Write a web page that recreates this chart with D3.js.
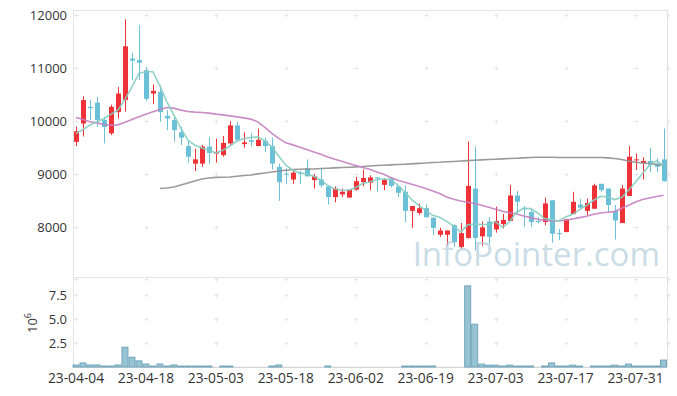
<!DOCTYPE html>
<html>
<head>
<meta charset="utf-8">
<script src="https://cdn.jsdelivr.net/npm/d3@7"></script>
<style>
  body { margin: 0; background: #fff; }
  text { font-family: "Open Sans", sans-serif; }
</style>
</head>
<body>
<script>
// trading days shown on the category axis
const dates = [
  "23-04-04","23-04-05","23-04-06","23-04-07","23-04-10","23-04-11","23-04-12","23-04-13","23-04-14","23-04-17",
  "23-04-18","23-04-19","23-04-20","23-04-21","23-04-24","23-04-25","23-04-26","23-04-27","23-04-28","23-05-02",
  "23-05-03","23-05-04","23-05-08","23-05-09","23-05-10","23-05-11","23-05-12","23-05-15","23-05-16","23-05-17",
  "23-05-18","23-05-19","23-05-22","23-05-23","23-05-24","23-05-25","23-05-26","23-05-30","23-05-31","23-06-01",
  "23-06-02","23-06-05","23-06-07","23-06-08","23-06-09","23-06-12","23-06-13","23-06-14","23-06-15","23-06-16",
  "23-06-19","23-06-20","23-06-21","23-06-22","23-06-23","23-06-26","23-06-27","23-06-28","23-06-29","23-06-30",
  "23-07-03","23-07-04","23-07-05","23-07-06","23-07-07","23-07-10","23-07-11","23-07-12","23-07-13","23-07-14",
  "23-07-17","23-07-18","23-07-19","23-07-20","23-07-21","23-07-24","23-07-25","23-07-26","23-07-27","23-07-28",
  "23-07-31","23-08-01","23-08-02","23-08-03","23-08-04"
];

const open = [
  9610, 9956,10270,10350,10020, 9770,10170,10400,11180,11150,
 10960,10520,10550,10100,10020, 9790, 9530, 9200, 9200, 9520,
  9390, 9360, 9580, 9920, 9570, 9640, 9530, 9630, 9530, 9140,
  9010, 8900, 9030, 9110, 8890, 8900, 8770, 8570, 8620, 8560,
  8710, 8850, 8840, 8940, 8800, 8920, 8770, 8670, 8310, 8270,
  8360, 8180, 7860, 7860, 8040, 7630, 7800, 8730, 7830, 8110,
  7960, 8060, 8120, 8600, 8370, 8290, 8120, 8100, 8510, 7890,
  7910, 8250, 8430, 8310, 8350, 8820, 8730, 8310, 8080, 8590,
  9260, 9210, 9250, 9200, 9280
];
const high = [
  9900,10470,10400,10460,10080,10310,10640,11920,11290,11810,
 11010,10690,10680,10210,10070, 9890, 9630, 9480, 9550, 9700,
  9670, 9720,10000, 9990, 9790, 9770, 9860, 9690, 9690, 9200,
  9110, 9080, 9060, 9280, 9010, 9110, 8790, 8770, 8730, 8710,
  8950, 9090, 8980, 8950, 8920, 8930, 8790, 8790, 8400, 8450,
  8430, 8190, 7990, 7940, 8060, 8080, 9620, 9520, 8110, 8190,
  8390, 8250, 8800, 8680, 8400, 8350, 8190, 8560, 8510, 7970,
  8160, 8670, 8540, 8540, 8820, 8820, 8730, 8420, 8800, 9530,
  9390, 9320, 9500, 9300, 9860
];
const low = [
  9530, 9710,10020, 9890, 9580, 9740,10050,10180,10770,10780,
 10380,10320, 9990, 9830, 9610, 9550, 9220, 9060, 9140, 9200,
  9220, 9330, 9550, 9610, 9500, 9530, 9530, 9420, 9090, 8500,
  8810, 8820, 8820, 8960, 8730, 8750, 8430, 8470, 8570, 8560,
  8690, 8770, 8700, 8670, 8700, 8750, 8570, 8100, 7990, 8230,
  8190, 7850, 7820, 7660, 7630, 7600, 7790, 7560, 7650, 7680,
  7900, 7980, 8120, 8260, 8010, 8010, 8070, 8040, 7710, 7760,
  7910, 8250, 8350, 8220, 8350, 8670, 8290, 7770, 8080, 8590,
  9080, 8900, 9040, 9040, 8860
];
const close = [
  9810,10396,10245,10020, 9890,10270,10520,11410,11140,11100,
 10420,10570,10170,10050, 9830, 9690, 9330, 9280, 9520, 9400,
  9420, 9590, 9920, 9650, 9600, 9610, 9650, 9530, 9200, 8850,
  8990, 9030, 9010, 8960, 8960, 8790, 8570, 8730, 8670, 8710,
  8870, 8930, 8940, 8920, 8890, 8780, 8650, 8310, 8400, 8360,
  8190, 7990, 7940, 7940, 7720, 7890, 8780, 7800, 8000, 7820,
  8120, 8140, 8600, 8480, 8350, 8100, 8110, 8450, 7880, 7880,
  8150, 8480, 8370, 8460, 8790, 8700, 8420, 8130, 8730, 9330,
  9280, 9250, 9170, 9140, 8870
];
// volume in millions of shares
const volume = [
  0.21,0.42,0.21,0.21,0.10,0.10,0.21,2.06,1.02,0.64,
  0.31,0.10,0.31,0.10,0.21,0.10,0.10,0.10,0.10,0.10,
  0.02,0.10,0.10,0.02,0.02,0.02,0.02,0.02,0.10,0.21,
  0.02,0.02,0.02,0.02,0.02,0.02,0.10,0.02,0.02,0.02,
  0.02,0.02,0.02,0.02,0.02,0.02,0.02,0.10,0.10,0.10,
  0.10,0.10,0.02,0.02,0.02,0.02,8.45,4.46,0.30,0.19,
  0.19,0.10,0.19,0.10,0.10,0.10,0.02,0.10,0.42,0.10,
  0.10,0.19,0.10,0.02,0.10,0.10,0.10,0.19,0.10,0.30,
  0.10,0.10,0.10,0.10,0.72
];
const ma5 = [
  9768, 9843, 9925, 9987,10051,10132,10208,10409,10647,10900,
 10930,10930,10660,10364,10113, 9862, 9641, 9547, 9496, 9453,
  9402, 9453, 9528, 9628, 9674, 9692, 9704, 9628, 9515, 9340,
  9170, 9075, 9024, 9000, 8962, 8887, 8787, 8723, 8698, 8698,
  8749, 8825, 8855, 8900, 8911, 8900, 8793, 8666, 8523, 8415,
  8321, 8226, 8189, 8113, 8024, 7911, 8047, 8060, 8053, 8053,
  8104, 8000, 8104, 8289, 8353, 8353, 8270, 8164, 8145, 8119,
  8194, 8245, 8334, 8415, 8509, 8585, 8572, 8523, 8560, 8698,
  8855, 9013, 9170, 9251, 9170
];
const ma20 = [
 10070,10032, 9987, 9968, 9938, 9925, 9930, 9981,10032,10081,
 10132,10175,10221,10258,10245,10208,10183,10170,10164,10151,
 10132,10119,10100,10081,10062,10038, 9987, 9881, 9768, 9674,
  9591, 9553, 9509, 9466, 9421, 9377, 9326, 9283, 9245, 9202,
  9164, 9127, 9094, 9043, 9000, 8938, 8887, 8849, 8811, 8774,
  8730, 8685, 8636, 8572, 8528, 8496, 8472, 8447, 8415, 8377,
  8340, 8302, 8274, 8251, 8213, 8183, 8151, 8132, 8119, 8119,
  8132, 8157, 8183, 8207, 8245, 8270, 8283, 8296, 8358, 8415,
  8477, 8523, 8553, 8579, 8604
];
const ma60 = [
  null, null, null, null, null, null, null, null, null, null,
  null, null, 8730, 8742, 8760, 8798, 8836, 8874, 8911, 8930,
  8940, 8943, 8949, 8962, 8975, 8987, 9006, 9024, 9043, 9062,
  9075, 9088, 9094, 9100, 9100, 9107, 9113, 9119, 9126, 9132,
  9138, 9145, 9155, 9164, 9170, 9177, 9183, 9189, 9196, 9204,
  9211, 9221, 9226, 9234, 9241, 9249, 9257, 9264, 9270, 9277,
  9283, 9289, 9296, 9302, 9308, 9315, 9321, 9321, 9321, 9315,
  9315, 9315, 9315, 9315, 9315, 9315, 9308, 9296, 9277, 9251,
  9226, 9213, 9202, 9183, 9170
];
const priceTicks = [8000, 9000, 10000, 11000, 12000];
const volumeTicks = [2.5, 5.0, 7.5];
const dateTicks = dates.filter((d, i) => i % 10 === 0);

const width = 677, height = 396;
const left = 73, right = 667;
const priceTop = 10, priceBottom = 277, volTop = 277, volBottom = 367;

const upColor = "#ee3237", downColor = "#6bc0d8";
const gridColor = "#e3e3e3";

const svg = d3.select("body").append("svg")
  .attr("width", width)
  .attr("height", height);

const x = d3.scaleBand()
  .domain(dates)
  .range([72.5, 667]);
const xc = d => x(d) + x.bandwidth() / 2;

const y = d3.scaleLinear()
  .domain([7064, 12094])
  .range([priceBottom, priceTop]);

const yv = d3.scaleLinear()
  .domain([0, 9.375])
  .range([volBottom, volTop]);

// frame
const frame = svg.append("g").attr("stroke", gridColor).attr("fill", "none");
frame.append("line").attr("x1", left).attr("x2", right).attr("y1", priceTop + 0.5).attr("y2", priceTop + 0.5);
frame.append("line").attr("x1", left).attr("x2", right).attr("y1", volTop + 0.5).attr("y2", volTop + 0.5);
frame.append("line").attr("x1", left + 0.5).attr("x2", left + 0.5).attr("y1", priceTop).attr("y2", volBottom);
frame.append("line").attr("x1", right + 0.5).attr("x2", right + 0.5).attr("y1", priceTop).attr("y2", volBottom);
frame.append("line").attr("x1", left).attr("x2", right).attr("y1", volBottom + 0.5).attr("y2", volBottom + 0.5)
  .attr("stroke", "#d6d6d6");

// grid crosses
const gx = dateTicks.map(xc).concat([right + 0.5]);
const gy = priceTicks.map(y).concat(volumeTicks.map(yv), [volTop + 1.5]);
const crosses = svg.append("g").attr("stroke", "#e6e6e6").attr("stroke-width", 1);
gx.forEach(cx => gy.forEach(cy => {
  const px = Math.round(cx) + 0.5, py = Math.round(cy) + 0.5;
  crosses.append("line").attr("x1", px - 2).attr("x2", px + 2).attr("y1", py).attr("y2", py);
  crosses.append("line").attr("x1", px).attr("x2", px).attr("y1", py - 2).attr("y2", py + 2);
}));

// price axis
const yAxis = d3.axisLeft(y).tickValues(priceTicks).tickSize(0).tickPadding(6).tickFormat(d3.format("d"));
svg.append("g")
  .attr("transform", `translate(${left},0)`)
  .call(yAxis)
  .call(g => g.select(".domain").remove())
  .selectAll("text")
  .attr("font-size", 13)
  .attr("fill", "#333")
  .attr("font-family", "Open Sans, sans-serif");

const vAxis = d3.axisLeft(yv).tickValues(volumeTicks).tickSize(0).tickPadding(6).tickFormat(d3.format(".1f"));
svg.append("g")
  .attr("transform", `translate(${left},0)`)
  .call(vAxis)
  .call(g => g.select(".domain").remove())
  .selectAll("text")
  .attr("font-size", 13)
  .attr("fill", "#333")
  .attr("font-family", "Open Sans, sans-serif");

const unit = svg.append("text")
  .attr("transform", "translate(37,333) rotate(-90)")
  .attr("font-size", 13)
  .attr("fill", "#333");
unit.append("tspan").text("10");
unit.append("tspan").attr("dy", -6).attr("font-size", 9).text("6");

const xAxis = d3.axisBottom(x).tickValues(dateTicks).tickSize(0).tickPadding(6);
svg.append("g")
  .attr("transform", `translate(0,${volBottom})`)
  .call(xAxis)
  .call(g => g.select(".domain").remove())
  .selectAll("text")
  .attr("font-size", 13.8)
  .attr("fill", "#333")
  .attr("font-family", "Open Sans, sans-serif");

// volume bars
const vol = svg.append("g");
vol.selectAll("rect")
  .data(dates)
  .enter()
  .append("rect")
  .attr("x", d => x(d) + 0.5)
  .attr("y", (d, i) => yv(volume[i]))
  .attr("width", x.bandwidth() - 1)
  .attr("height", (d, i) => volBottom - yv(volume[i]))
  .attr("fill", "#98c3d3")
  .attr("stroke", (d, i) => (volBottom - yv(volume[i]) < 0.5 ? "none" : "#72a6bd"))
  .attr("stroke-width", 1);

// candles
const bodyW = 5;
const candles = svg.append("g")
  .selectAll("g")
  .data(dates)
  .enter()
  .append("g")
  .attr("fill", (d, i) => (close[i] >= open[i] ? upColor : downColor))
  .attr("stroke", (d, i) => (close[i] >= open[i] ? upColor : downColor));

candles.append("line")
  .attr("x1", d => Math.round(xc(d)) + 0.5)
  .attr("x2", d => Math.round(xc(d)) + 0.5)
  .attr("y1", (d, i) => y(high[i]))
  .attr("y2", (d, i) => y(low[i]))
  .attr("stroke-width", 1);

candles.append("rect")
  .attr("x", d => Math.round(xc(d)) + 0.5 - bodyW / 2)
  .attr("y", (d, i) => y(Math.max(open[i], close[i])))
  .attr("width", bodyW)
  .attr("height", (d, i) => Math.max(1, Math.abs(y(open[i]) - y(close[i]))))
  .attr("stroke", "none");

// moving averages
const maLine = series => d3.line()
  .defined(d => series[dates.indexOf(d)] != null)
  .x(d => xc(d))
  .y(d => y(series[dates.indexOf(d)]));

[[ma60, "#8f8f8f"], [ma20, "#c47fbf"], [ma5, "#86cdc2"]].forEach(([s, c]) => {
  svg.append("path")
    .datum(dates)
    .attr("d", maLine(s))
    .attr("fill", "none")
    .attr("stroke", c)
    .attr("stroke-width", 1.6)
    .attr("stroke-opacity", 0.9);
});

// watermark
svg.append("text")
  .attr("x", 660)
  .attr("y", 266)
  .attr("text-anchor", "end")
  .attr("font-size", 33)
  .attr("fill", "#a6c5d5")
  .attr("fill-opacity", 0.62)
  .text("InfoPointer.com");
</script>
</body>
</html>
